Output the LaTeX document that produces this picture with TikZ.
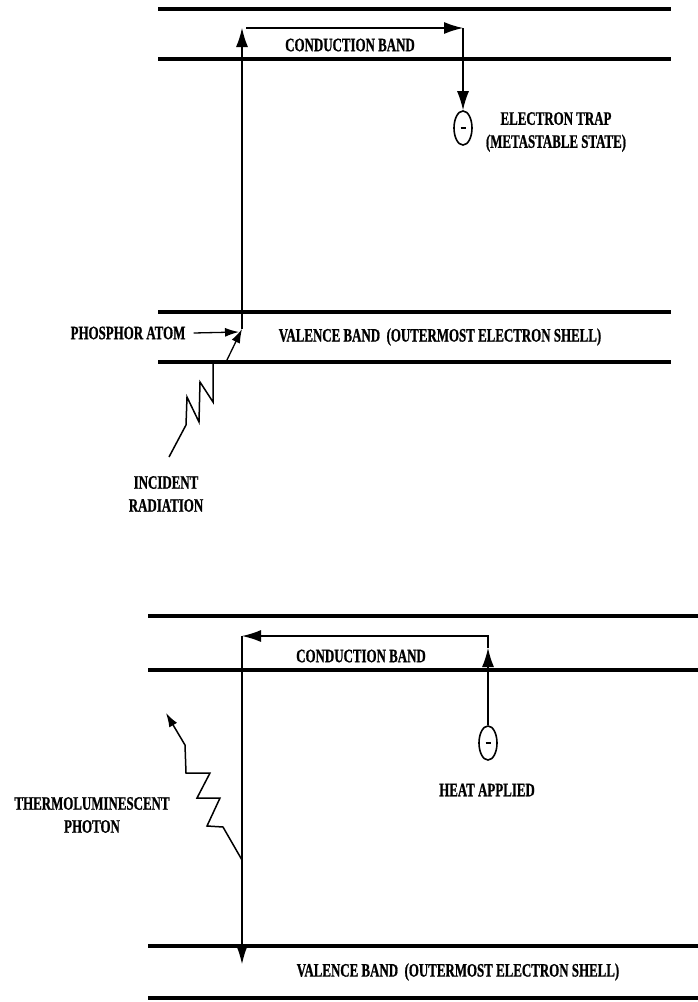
\documentclass[tikz,border=0pt]{standalone}
\usepackage{fontspec}
\newfontfamily\lblfont[FakeStretch=0.68,FakeBold=0.8]{Liberation Serif}
\usetikzlibrary{arrows.meta,shapes.geometric}
\tikzset{
  band/.style={line width=3.2pt},
  conn/.style={line width=1.3pt},
  bigtip/.style={-{Latex[length=19pt,width=12pt]}},
  smalltip/.style={-{Latex[length=14pt,width=9pt]}},
  lbl/.style={font=\lblfont\bfseries\fontsize{19}{23}\selectfont, inner sep=0pt, align=center},
  trapshape/.style={draw, ellipse, line width=1.6pt, minimum width=18pt, minimum height=34pt, inner sep=0pt},
}
\begin{document}
\begin{tikzpicture}[x=1pt,y=-1pt]
\useasboundingbox (0,0) rectangle (698,1002);

% ---------- top panel ----------
\draw[band] (158,9) -- (671,9);
\draw[band] (158,59) -- (671,59);
\draw[band] (158,312) -- (671,312);
\draw[band] (158,362) -- (671,362);

\node[lbl] (cb1) at (350,45) {CONDUCTION BAND};
\node[trapshape] (trap) at (463,128) {\rule{5pt}{2pt}};
\node[lbl] (trapl) at (556,132) {ELECTRON TRAP\\(METASTABLE STATE)};
\node[lbl] (pa) at (128,333) {PHOSPHOR ATOM};
\node[lbl] (vb1) at (440,337) {VALENCE BAND\ \ (OUTERMOST ELECTRON SHELL)};
\node[lbl] (inc) at (166,494) {INCIDENT\\RADIATION};

\coordinate (atom) at (242,329);
\coordinate (c1) at (242,28);
\coordinate (c1r) at (246,28);
\coordinate (c2) at (463,28);
\coordinate (patip) at (239,332);
\coordinate (hit) at (226,362);
\coordinate (z0) at (169,457);

\draw[conn,bigtip] (atom) -- (c1);
\draw[conn,bigtip] (c1r) -- (c2);
\draw[conn,bigtip] (c2) -- (trap.north);
\draw[conn,smalltip] ([xshift=8pt]pa.east) -- (patip);
\draw[conn,smalltip] (hit) -- (atom);
\draw[line width=1.5pt, line join=miter] (z0) -- (186,425) -- (187,397) -- (199,422) -- (200,382)
  -- (213,402) -- (213,362);

% ---------- bottom panel ----------
\draw[band] (148,616) -- (698,616);
\draw[band] (148,670) -- (698,670);
\draw[band] (148,946) -- (698,946);
\draw[band] (148,998) -- (698,998);

\node[lbl] (cb2) at (361,656) {CONDUCTION BAND};
\node[trapshape] (heat) at (488,743) {\rule{5pt}{2pt}};
\node[lbl] (heatl) at (487,790) {HEAT APPLIED};
\node[lbl] (vb2) at (458,972) {VALENCE BAND\ \ (OUTERMOST ELECTRON SHELL)};
\node[lbl] (thl) at (92,815) {THERMOLUMINESCENT\\PHOTON};

\coordinate (d1) at (488,636);
\coordinate (d0) at (242,636);
\coordinate (dm) at (488,648);
\coordinate (d2) at (242,964);
\coordinate (p0) at (242,860);
\coordinate (ptip) at (166,713);

\draw[conn,bigtip] (heat.north) -- (dm);
\draw[conn,bigtip] (dm) -- (d1) -- (d0);
\draw[conn,bigtip] (d0) -- (d2);
\draw[line width=1.5pt, line join=miter, smalltip] (p0) -- (223,827) -- (207,826) -- (220,798) -- (197,798)
  -- (210,773) -- (186,773) -- (185,745) -- (ptip);
\end{tikzpicture}
\end{document}
